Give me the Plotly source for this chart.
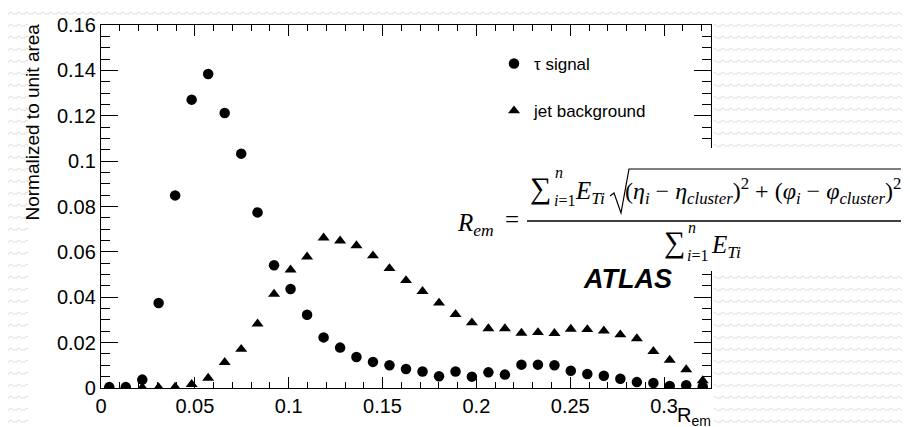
import base64
import plotly.graph_objects as go

# ---------------- data ----------------
r_em = [0.0044, 0.0132, 0.0220, 0.0307, 0.0395, 0.0483, 0.0571, 0.0659, 0.0747, 0.0834,
        0.0922, 0.1010, 0.1098, 0.1186, 0.1274, 0.1361, 0.1449, 0.1537, 0.1625, 0.1713,
        0.1801, 0.1889, 0.1976, 0.2064, 0.2152, 0.2240, 0.2328, 0.2416, 0.2503, 0.2591,
        0.2679, 0.2767, 0.2855, 0.2943, 0.3030, 0.3118, 0.3206]

tau_signal = [0.0004, 0.0004, 0.0037, 0.0375, 0.0849, 0.1271, 0.1384, 0.1212, 0.1033, 0.0774,
              0.0541, 0.0436, 0.0323, 0.0223, 0.0178, 0.0137, 0.0115, 0.0100, 0.0084, 0.0073,
              0.0052, 0.0073, 0.0050, 0.0069, 0.0059, 0.0103, 0.0103, 0.0100, 0.0076, 0.0062,
              0.0054, 0.0041, 0.0026, 0.0022, 0.0009, 0.0012, 0.0006]

jet_background = [0.0, 0.0, 0.0002, 0.0002, 0.0004, 0.0016, 0.0044, 0.0113, 0.0171, 0.0283,
                  0.0414, 0.0521, 0.0578, 0.0662, 0.0649, 0.0628, 0.0583, 0.0527, 0.0474, 0.0426,
                  0.0375, 0.0325, 0.0288, 0.0262, 0.0262, 0.0242, 0.0245, 0.0241, 0.0260, 0.0258,
                  0.0252, 0.0235, 0.0218, 0.0162, 0.0123, 0.0081, 0.0033]

x_tickvals = [0, 0.05, 0.1, 0.15, 0.2, 0.25, 0.3]
x_ticktext = ["0", "0.05", "0.1", "0.15", "0.2", "0.25", "0.3"]
y_tickvals = [0, 0.02, 0.04, 0.06, 0.08, 0.1, 0.12, 0.14, 0.16]
y_ticktext = ["0", "0.02", "0.04", "0.06", "0.08", "0.1", "0.12", "0.14", "0.16"]

x_minor = [0.01, 0.02, 0.03, 0.04, 0.06, 0.07, 0.08, 0.09, 0.11, 0.12, 0.13, 0.14,
           0.16, 0.17, 0.18, 0.19, 0.21, 0.22, 0.23, 0.24, 0.26, 0.27, 0.28, 0.29,
           0.31, 0.32]
y_minor = [0.005, 0.01, 0.015, 0.025, 0.03, 0.035, 0.045, 0.05, 0.055, 0.065, 0.07, 0.075,
           0.085, 0.09, 0.095, 0.105, 0.11, 0.115, 0.125, 0.13, 0.135, 0.145, 0.15, 0.155]

# ---------------- geometry helpers ----------------
W, H = 910, 427
L, R, T, B = 93, 703, 17, 380
PW, PH = R - L, B - T


def px(x):
    return (x - L) / PW


def py(y):
    return (B - y) / PH


SANS = "Liberation Sans, Arial, sans-serif"
SERIF = "Liberation Serif, Times New Roman, serif"

fig = go.Figure()
fig.add_trace(go.Scatter(
    x=r_em, y=tau_signal, mode="markers", name="τ signal", legendgroup="a",
    marker=dict(symbol="circle", size=10.5, color="black"),
))
fig.add_trace(go.Scatter(
    x=r_em, y=jet_background, mode="markers", name="jet background", legendgroup="b",
    marker=dict(symbol="triangle-up", size=10.5, color="black"),
))

# background pattern image
svg = (
    "<svg xmlns='http://www.w3.org/2000/svg' width='910' height='427' viewBox='0 0 910 427'>"
    "<defs><pattern id='p' width='8' height='12' patternUnits='userSpaceOnUse'>"
    "<path d='M0 7 Q2 3 4 5 Q6 8 8 5' fill='none' stroke='#e4e4e4' stroke-width='1.1'/>"
    "</pattern></defs>"
    "<rect width='910' height='427' fill='#ffffff'/>"
    "<rect width='910' height='427' fill='url(#p)'/></svg>"
)
src = "data:image/svg+xml;base64," + base64.b64encode(svg.encode()).decode()

images = [dict(source=src, xref="paper", yref="paper", x=px(0), y=py(0),
               sizex=W / PW, sizey=H / PH, xanchor="left", yanchor="top",
               sizing="stretch", layer="below")]

shapes = [
    # white canvas of the chart
    dict(type="rect", xref="paper", yref="paper", x0=px(20), x1=px(706), y0=py(15), y1=py(430),
         fillcolor="white", line=dict(width=0), layer="below"),
    # white box of the formula
    dict(type="rect", xref="paper", yref="paper", x0=px(440), x1=px(912), y0=py(140), y1=py(263),
         fillcolor="white", line=dict(width=0), layer="above"),
    # fraction bar
    dict(type="line", xref="paper", yref="paper", x0=px(519), x1=px(893), y0=py(213), y1=py(213),
         line=dict(color="black", width=1.3), layer="above"),
    # radical sign + overline
    dict(type="path", xref="paper", yref="paper",
         path="M {} {} L {} {} L {} {} L {} {} L {} {}".format(
             px(602), py(188), px(606), py(185), px(613), py(205), px(621), py(161), px(893), py(161)),
         line=dict(color="black", width=1.2), layer="above"),
]

ann = []


def A(text, x, y, size, xanchor="left", yanchor="middle", family=SERIF, **kw):
    ann.append(dict(text=text, x=px(x), y=py(y), xref="paper", yref="paper", showarrow=False,
                    xanchor=xanchor, yanchor=yanchor, font=dict(family=family, size=size, color="black"),
                    **kw))


# formula
A("<i>R</i><sub><i>em</i></sub>", 447, 216, 25)
A("=", 504, 211, 25, xanchor="center")
A("∑", 532, 180, 30, xanchor="center")
A("<i>n</i>", 545, 164, 16)
A("<i>i</i>=1", 544, 192, 16)
A("<i>E</i><sub><i>Ti</i></sub>", 565, 184, 25)
A("(<i>η</i><sub><i>i</i></sub> − <i>η</i><sub><i>cluster</i></sub>)<sup>2</sup> + "
  "(<i>φ</i><sub><i>i</i></sub> − <i>φ</i><sub><i>cluster</i></sub>)<sup>2</sup>",
  896, 183, 24, xanchor="right")
A("∑", 666, 234, 30, xanchor="center")
A("<i>n</i>", 678, 219, 16)
A("<i>i</i>=1", 677, 247, 16)
A("<i>E</i><sub><i>Ti</i></sub>", 701, 238, 25)

# ATLAS label
A("<b><i>ATLAS</i></b>", 666, 271, 27, xanchor="right", family=SANS)

# axis titles
A("Normalized to unit area", 24, 14, 19, xanchor="center", yanchor="top", family=SANS, textangle=-90)
A("R<sub>em</sub>", 705, 423, 20, xanchor="right", yanchor="bottom", family=SANS)

axis_common = dict(showline=True, linecolor="black", linewidth=1.3, mirror="ticks",
                   ticks="inside", tickcolor="black", tickwidth=1.3, showgrid=False,
                   zeroline=False, tickmode="array",
                   tickfont=dict(family=SANS, size=20, color="black"))

fig.update_layout(
    width=W, height=H,
    margin=dict(l=L, r=W - R, t=T, b=H - B, autoexpand=False),
    paper_bgcolor="white", plot_bgcolor="rgba(0,0,0,0)",
    xaxis=dict(range=[0, 0.325], tickvals=x_tickvals, ticktext=x_ticktext, ticklen=11,
               minor=dict(tickmode="array", tickvals=x_minor, ticks="inside", ticklen=6,
                          tickcolor="black", tickwidth=1.3),
               **axis_common),
    yaxis=dict(range=[0, 0.16], tickvals=y_tickvals, ticktext=y_ticktext, ticklen=17,
               minor=dict(tickmode="array", tickvals=y_minor, ticks="inside", ticklen=9,
                          tickcolor="black", tickwidth=1.3),
               **axis_common),
    showlegend=True,
    legend=dict(x=px(486), y=py(38), xanchor="left", yanchor="top", bgcolor="rgba(0,0,0,0)",
                font=dict(family=SANS, size=17, color="black"), traceorder="grouped",
                tracegroupgap=22, borderwidth=0),
    images=images,
    shapes=shapes,
    annotations=ann,
)

fig.write_html("out.html")
